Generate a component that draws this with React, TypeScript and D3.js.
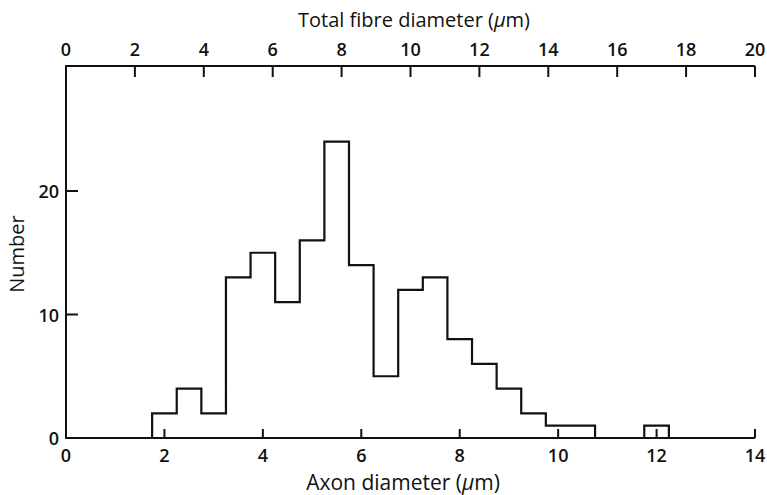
import React, { useEffect, useRef } from "react";
import * as d3 from "d3";

// Histogram of axon diameters, 0.5 µm bins (left edges)
const binStarts = [0, 0.5, 1.0, 1.5, 1.75, 2.25, 2.75, 3.25, 3.75, 4.25, 4.75, 5.25, 5.75, 6.25, 6.75, 7.25, 7.75, 8.25, 8.75, 9.25, 9.75, 10.25, 10.75, 11.25, 11.75, 12.25, 12.75, 13.25];
const counts = [0, 0, 0, 0, 2, 4, 2, 13, 15, 11, 16, 24, 14, 5, 12, 13, 8, 6, 4, 2, 1, 1, 0, 0, 1, 0, 0, 0];
const binEnd = 13.75;

const axonTicks = [0, 2, 4, 6, 8, 10, 12, 14];
const fibreTicks = [0, 2, 4, 6, 8, 10, 12, 14, 16, 18, 20];
const numberTicks = [0, 10, 20];

const W = 767;
const H = 495;
const left = 66;
const right = 755;
const top = 66;
const bottom = 438;

export default function App() {
  const ref = useRef<SVGSVGElement>(null);

  useEffect(() => {
    const svg = d3.select(ref.current);
    svg.selectAll("*").remove();
    const font = "'Open Sans', 'DejaVu Sans', sans-serif";
    const ink = "#111";

    const x = d3.scaleLinear().domain([0, 14]).range([left, right]);
    const xTop = d3.scaleLinear().domain([0, 20]).range([left, right]);
    const y = d3.scaleLinear().domain([0, 24]).range([bottom, bottom - 24 * 12.35]);

    const g = svg.append("g");

    // frame lines: left, bottom, top
    g.append("line").attr("x1", left).attr("x2", left).attr("y1", top - 1).attr("y2", bottom + 1).attr("stroke", ink).attr("stroke-width", 2);
    g.append("line").attr("x1", left).attr("x2", right).attr("y1", bottom).attr("y2", bottom).attr("stroke", ink).attr("stroke-width", 2);
    g.append("line").attr("x1", left).attr("x2", right).attr("y1", top).attr("y2", top).attr("stroke", ink).attr("stroke-width", 2);

    // bottom ticks (pointing up)
    axonTicks.forEach((t) => {
      if (t > 0) {
        g.append("line").attr("x1", x(t)).attr("x2", x(t)).attr("y1", bottom).attr("y2", bottom - 9).attr("stroke", ink).attr("stroke-width", 2);
      }
      g.append("text").attr("x", x(t)).attr("y", 462).attr("text-anchor", "middle")
        .attr("font-family", font).attr("font-size", 18).attr("font-weight", 600).attr("fill", ink).text(String(t));
    });

    // top ticks (pointing down)
    fibreTicks.forEach((t) => {
      if (t > 0) {
        g.append("line").attr("x1", xTop(t)).attr("x2", xTop(t)).attr("y1", top).attr("y2", top + 11).attr("stroke", ink).attr("stroke-width", 2);
      }
      g.append("text").attr("x", xTop(t)).attr("y", 56).attr("text-anchor", "middle")
        .attr("font-family", font).attr("font-size", 18).attr("font-weight", 600).attr("fill", ink).text(String(t));
    });

    // left ticks (pointing right)
    numberTicks.forEach((t) => {
      if (t > 0) {
        g.append("line").attr("x1", left).attr("x2", left + 12).attr("y1", y(t)).attr("y2", y(t)).attr("stroke", ink).attr("stroke-width", 2);
      }
      g.append("text").attr("x", 59).attr("y", y(t) + 7).attr("text-anchor", "end")
        .attr("font-family", font).attr("font-size", 18).attr("font-weight", 600).attr("fill", ink).text(String(t));
    });

    // histogram outline as a step line
    const pts: [number, number][] = binStarts.map((b, i) => [b, counts[i]]);
    pts.push([binEnd, 0]);
    const step = d3.line<[number, number]>().x((d) => x(d[0])).y((d) => y(d[1])).curve(d3.curveStepAfter);
    g.append("path").attr("d", step(pts)).attr("fill", "none").attr("stroke", ink).attr("stroke-width", 2.2);

    // axis titles
    const bt = g.append("text").attr("x", 403).attr("y", 490).attr("text-anchor", "middle")
      .attr("font-family", font).attr("font-size", 21).attr("font-weight", 500).attr("fill", ink);
    bt.append("tspan").text("Axon diameter (");
    bt.append("tspan").attr("font-style", "italic").text("μ");
    bt.append("tspan").text("m)");

    const tt = g.append("text").attr("x", 414).attr("y", 27).attr("text-anchor", "middle")
      .attr("font-family", font).attr("font-size", 20).attr("font-weight", 500).attr("fill", ink);
    tt.append("tspan").text("Total fibre diameter (");
    tt.append("tspan").attr("font-style", "italic").text("μ");
    tt.append("tspan").text("m)");

    g.append("text").attr("transform", `translate(24,254) rotate(-90)`).attr("text-anchor", "middle")
      .attr("font-family", font).attr("font-size", 20).attr("font-weight", 500).attr("fill", ink).text("Number");
  }, []);

  return <svg ref={ref} width={W} height={H} style={{ position: "absolute", left: 0, top: 0, background: "#fff" }} />;
}
